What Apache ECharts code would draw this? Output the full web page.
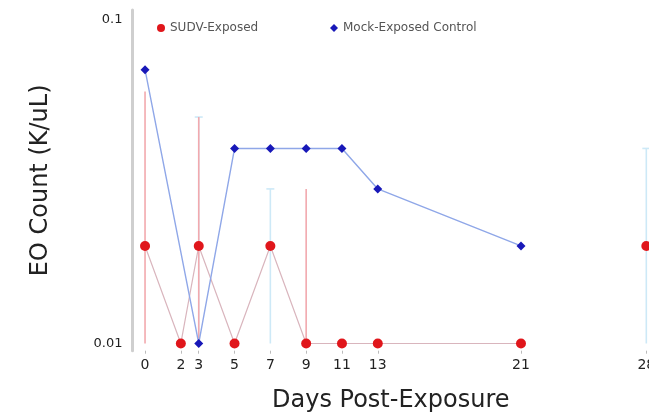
<!DOCTYPE html>
<html><head><meta charset="utf-8">
<script src="https://cdn.jsdelivr.net/npm/echarts@6/dist/echarts.min.js"></script>
<style>html,body{margin:0;padding:0;background:#fff}#c{width:649px;height:416px}</style>
</head><body><div id="c"></div>
<script>
// ---- data ----
const tickDays = [0, 2, 3, 5, 7, 9, 11, 13, 21, 28];
const sudvDays = [0, 2, 3, 5, 7, 9, 11, 13, 21];
const sudvVals = [0.02, 0.01, 0.02, 0.01, 0.02, 0.01, 0.01, 0.01, 0.01];
const sudvLateDays = [28];
const sudvLateVals = [0.02];
const mockDays = [0, 3, 5, 7, 9, 11, 13, 21];
const mockVals = [0.07, 0.01, 0.04, 0.04, 0.04, 0.04, 0.03, 0.02];
const sudvErrDays = [0, 3, 9];
const sudvErrLow = [0.01, 0.01, 0.01];
const sudvErrHigh = [0.06, 0.05, 0.03];
const mockErrDays = [3, 7, 28];
const mockErrLow = [0.01, 0.01, 0.01];
const mockErrHigh = [0.05, 0.03, 0.04];
const yLabels = [0.01, 0.1];

const zip = (a, b) => a.map((v, i) => [v, b[i]]);
const zip3 = (a, b, c) => a.map((v, i) => [v, b[i], c[i]]);

function errRender(color, cap) {
  return function (params, api) {
    const x = api.value(0);
    const p1 = api.coord([x, api.value(1)]);
    const p2 = api.coord([x, api.value(2)]);
    const children = [{
      type: 'line',
      shape: { x1: p1[0], y1: p1[1], x2: p2[0], y2: p2[1] },
      style: { stroke: color, lineWidth: 1.6 }
    }];
    if (cap) {
      children.push({
        type: 'line',
        shape: { x1: p2[0] - 4, y1: p2[1], x2: p2[0] + 4, y2: p2[1] },
        style: { stroke: color, lineWidth: 1.6 }
      });
    }
    return { type: 'group', children };
  };
}

const RED = '#e0161b', BLUE = '#1818b8';
const FONT = 'DejaVu Sans';
const chart = echarts.init(document.getElementById('c'), null, { renderer: 'canvas' });
chart.setOption({
  animation: false,
  backgroundColor: '#ffffff',
  textStyle: { fontFamily: FONT },
  legend: [
    { left: 152, top: 17, data: [{ name: 'SUDV-Exposed', icon: 'circle' }], itemWidth: 8, itemHeight: 8,
      textStyle: { fontSize: 12, color: '#555', fontFamily: FONT } },
    { left: 325, top: 17, data: [{ name: 'Mock-Exposed Control', icon: 'diamond' }], itemWidth: 8, itemHeight: 8,
      textStyle: { fontSize: 12, color: '#555', fontFamily: FONT } }
  ],
  grid: { left: 132.5, top: 10, width: 516.5, height: 340.7, containLabel: false, outerBoundsMode: 'none' },
  xAxis: {
    type: 'value', min: -0.7, max: 28.15,
    name: 'Days Post-Exposure', nameLocation: 'middle', nameGap: 38,
    nameTextStyle: { fontSize: 24, color: '#222', fontFamily: FONT, padding: [0, 0, 0, 0] },
    axisLine: { show: false },
    splitLine: { show: false },
    axisTick: { show: true, customValues: tickDays, length: 3, lineStyle: { color: '#bbb' } },
    axisLabel: { customValues: tickDays, fontSize: 14, color: '#222', margin: 8, fontFamily: FONT, hideOverlap: false }
  },
  yAxis: {
    type: 'log', logBase: 10, min: 0.0095, max: 0.107,
    name: 'EO Count (K/uL)', nameLocation: 'middle', nameGap: 80,
    nameTextStyle: { fontSize: 24, color: '#222', fontFamily: FONT },
    axisLine: { show: true, onZero: false, lineStyle: { color: '#cfcfcf', width: 3 } },
    axisTick: { show: false },
    splitLine: { show: false },
    axisLabel: {
      fontSize: 13, color: '#222', margin: 10, fontFamily: FONT,
      showMinLabel: false, showMaxLabel: false,
      formatter: v => {
        const r = Number(Number(v).toPrecision(3));
        return yLabels.some(l => Math.abs(l - r) < 1e-9) ? String(r) : '';
      }
    }
  },
  series: [
    { type: 'custom', name: 'mockErr', z: 1, silent: true, renderItem: errRender('#cde9f7', true),
      data: zip3(mockErrDays, mockErrLow, mockErrHigh), encode: { x: 0, y: [1, 2] } },
    { type: 'custom', name: 'sudvErr', z: 1, silent: true, renderItem: errRender('#f2a9ae', false),
      data: zip3(sudvErrDays, sudvErrLow, sudvErrHigh), encode: { x: 0, y: [1, 2] } },
    { type: 'line', name: 'SUDV-Exposed', z: 3, data: zip(sudvDays, sudvVals),
      symbol: 'circle', symbolSize: 10, itemStyle: { color: RED },
      lineStyle: { color: '#d9b5bd', width: 1.2 } },
    { type: 'line', name: 'SUDV-Exposed', z: 3, data: zip(sudvLateDays, sudvLateVals),
      symbol: 'circle', symbolSize: 10, itemStyle: { color: RED },
      lineStyle: { color: '#d9b5bd', width: 1.2 } },
    { type: 'line', name: 'Mock-Exposed Control', z: 4, data: zip(mockDays, mockVals),
      symbol: 'diamond', symbolSize: 9, itemStyle: { color: BLUE },
      lineStyle: { color: '#8fa7e8', width: 1.4 } }
  ]
});
</script></body></html>
